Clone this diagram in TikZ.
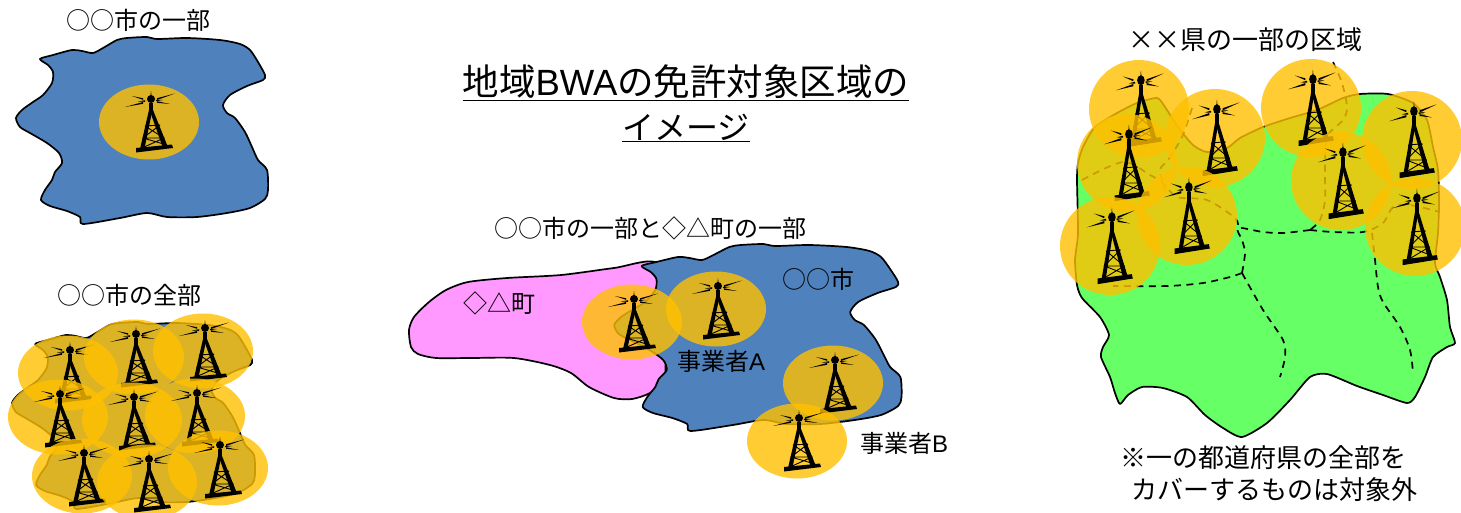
\documentclass[tikz,border=0pt]{standalone}
\usepackage{fontspec}
\setmainfont{Noto Sans CJK JP}
\newfontfamily\latinfont{Liberation Sans}
\definecolor{cityblue}{HTML}{4F81BD}
\definecolor{townpink}{HTML}{FF99FF}
\definecolor{prefgreen}{HTML}{66FF66}
\definecolor{cellgold}{HTML}{FFC000}
\tikzset{
  arealine/.style={draw=black, line width=1.7pt, line join=round},
  cellarea/.style={fill=cellgold, opacity=0.8},
  areatext/.style={inner sep=0pt, font=\fontsize{24}{28}\selectfont},
  notetext/.style={inner sep=0pt, font=\fontsize{26}{30}\selectfont},
  titletext/.style={inner sep=0pt, font=\fontsize{36.5}{42}\selectfont},
  prefborder/.style={line width=1.7pt, dash pattern=on 7pt off 5.5pt},
  towerpic/.pic={
    % the lattice mast
    \fill (-9,27) -- (0,-12) -- (3.4,-12) -- (-4.4,26) -- cycle;
    \fill (18.5,24) -- (4,-12) -- (0.6,-12) -- (13.6,25) -- cycle;
    \fill (-13,26) -- (23,22.5) -- (24,26) -- (-13,30.5) -- cycle;
    \fill (0.2,-12) rectangle (3.8,-19);
    \fill (2,-23) circle (4);
    \fill (1,-22) -- (2,-31) -- (3,-22) -- cycle;
    \draw[line width=0.9pt] (-4,4) -- (11,3) (-4,4) -- (15,16) -- (-7,26)
      (11,3) -- (-6,16) -- (18,23) (-6,16) -- (15,16);
    % the beams
    \fill (-24,-15) -- (-6,-20) -- (-6,-18.2) -- cycle;
    \fill (-17,-26) -- (-6,-23.8) -- (-6,-22.2) -- cycle;
    \fill (-11,-20.5) -- (-4,-21.8) -- (-4,-20.2) -- cycle;
    \fill (26,-28.5) -- (8,-23.8) -- (8,-22) -- cycle;
    \fill (21,-18) -- (8,-20.8) -- (8,-19.2) -- cycle;
    \fill (14,-22) -- (7,-22.2) -- (7,-20.8) -- cycle;
  },
  cityshape/.pic={
    \path[pic actions] plot[smooth cycle, tension=0.45] coordinates {
      (40,59) (53,55) (72,50) (82,51) (93,53) (103,48) (117,40) (127,38)
      (147,37) (157,39) (187,38) (220,40) (240,44) (250,50) (258,62) (265,75)
      (263,80) (247,86) (230,95) (223,105) (227,113) (235,118) (245,132)
      (252,147) (258,160) (267,170) (268,190) (265,199) (250,208) (227,213)
      (197,217) (167,217) (147,213) (120,218) (83,224) (80,217) (67,211)
      (50,206) (41,200) (45,190) (52,180) (55,172) (62,163) (59,153) (47,143)
      (30,133) (20,127) (16,118) (22,110) (33,102) (43,95) (52,83) (53,72)
      (48,65)};
  }
}
\begin{document}
\begin{tikzpicture}[x=1pt, y=-1pt]
  \useasboundingbox (0,0) rectangle (1461,512);

  % top left
  \pic[arealine, fill=cityblue] at (0,0) {cityshape};
  \fill[cellarea] (149,122) ellipse (50 and 37.5);
  \pic at (149,122) {towerpic};
  \node[areatext] (labelPart) at (138,20) {○○市の一部};

  % bottom left
  \pic[arealine, fill=cityblue, xscale=0.964] at (-3.4,285) {cityshape};
  \foreach \x/\y in {68/373,134/357,203/351,58/417,132/420,195/416,82/476,147/482,218/468} {
    \fill[cellarea] (\x,\y) ellipse (50 and 37.5);
    \pic at (\x,\y) {towerpic};
  }
  \node[areatext] (labelWhole) at (129,295) {○○市の全部};

  % title
  \node[titletext] (titleTop) at (686,83)
    {\underline{地域{\latinfont BWA}の免許対象区域の}};
  \node[titletext, font=\fontsize{32}{38}\selectfont] (titleBottom) at (686,128)
    {\underline{イメージ}};

  % middle
  \fill[townpink, arealine] plot[smooth cycle, tension=0.45] coordinates {
    (657,263) (614,268) (561,275) (507,278) (468,282) (446,290) (429,302)
    (414,317) (409,330) (411,347) (418,354) (436,358) (471,358) (514,358)
    (550,365) (571,373) (589,387) (614,398) (632,399) (650,393) (664,380)
    (666,360) (672,310)};
  \pic[arealine, fill=cityblue, xscale=1.14] at (596,207) {cityshape};
  \foreach \x/\y in {632/322,716/309,833/383,797/441} {
    \fill[cellarea] (\x,\y) ellipse (50 and 37.5);
    \pic at (\x,\y) {towerpic};
  }
  \node[areatext] (labelBoth) at (650,228) {○○市の一部と◇△町の一部};
  \node[areatext] (labelCity) at (818,279) {○○市};
  \node[areatext] (labelTown) at (499,303) {◇△町};
  \node[areatext] (labelA) at (721,361) {事業者{\latinfont A}};
  \node[areatext] (labelB) at (904,443) {事業者{\latinfont B}};

  % right
  \fill[prefgreen, arealine] plot[smooth cycle, tension=0.4] coordinates {
    (1078,163) (1083,147) (1095,127) (1117,113) (1137,103) (1157,98) (1165,107)
    (1178,127) (1193,145) (1207,152) (1227,148) (1240,138) (1263,127) (1290,118)
    (1317,110) (1343,98) (1360,94) (1388,94) (1413,103) (1427,120) (1433,147)
    (1438,170) (1439,203) (1438,233) (1435,263) (1440,277) (1447,300) (1450,327)
    (1455,343) (1447,347) (1433,357) (1425,377) (1415,397) (1407,403) (1383,395)
    (1357,386) (1327,374) (1310,377) (1290,400) (1267,423) (1242,437) (1223,428)
    (1205,415) (1187,397) (1163,388) (1142,387) (1128,395) (1120,404) (1115,393)
    (1110,377) (1101,357) (1103,347) (1109,335) (1100,317) (1082,298) (1077,285)
    (1075,260) (1078,233) (1077,180)};
  \draw[prefborder] plot[smooth, tension=0.5] coordinates {(1333,62) (1342,83) (1347,107) (1343,120) (1327,137) (1325,170) (1325,200) (1320,220) (1310,230)};
  \draw[prefborder] plot[smooth, tension=0.5] coordinates {(1310,230) (1333,232) (1363,232) (1383,223) (1393,207) (1410,205) (1440,212)};
  \draw[prefborder] plot[smooth, tension=0.5] coordinates {(1310,230) (1283,233) (1263,232) (1238,228) (1242,240) (1245,253) (1242,273)};
  \draw[prefborder] plot[smooth, tension=0.5] coordinates {(1242,273) (1230,277) (1203,283) (1167,286) (1113,286)};
  \draw[prefborder] plot[smooth, tension=0.5] coordinates {(1372,233) (1375,260) (1378,287) (1383,302) (1400,327) (1410,350) (1413,373)};
  \draw[prefborder] plot[smooth, tension=0.5] coordinates {(1242,273) (1263,310) (1283,340) (1285,357) (1280,377)};
  \draw[prefborder] plot[smooth, tension=0.5] coordinates {(1082,180) (1123,162) (1150,175) (1163,183) (1177,197) (1207,200) (1235,218) (1238,228)};
  \draw[prefborder] plot[smooth, tension=0.5] coordinates {(1192,108) (1182,137) (1168,160) (1160,170) (1165,190)};
  \foreach \x/\y in {1139/109,1215/138,1311/108,1412/140,1127/163,1187/216,1110/246,1341/181,1415/227} {
    \fill[cellarea] (\x,\y) ellipse (50 and 49);
    \pic[xscale=0.95, yscale=1.25] at (\x,\y) {towerpic};
  }
  \node[notetext] (labelPref) at (1245,40) {××県の一部の区域};
  \node[notetext] (noteTop) at (1263,458) {※一の都道府県の全部を};
  \node[notetext] (noteBottom) at (1274,490) {カバーするものは対象外};
\end{tikzpicture}
\end{document}
